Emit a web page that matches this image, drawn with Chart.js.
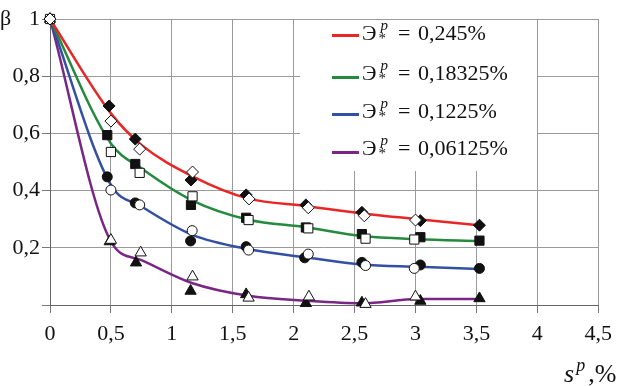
<!DOCTYPE html>
<html>
<head>
<meta charset="utf-8">
<script src="https://cdn.jsdelivr.net/npm/chart.js@4"></script>
<style>
  body { margin: 0; background: #fff; }
  #wrap { position: relative; width: 620px; height: 386px; font-family: "Liberation Serif", "Times New Roman", Times, "DejaVu Serif", serif; }
  canvas { position: absolute; left: 0; top: 0; }
  .legend { position: absolute; left: 300px; top: 20px; width: 237px; height: 151px; background: #fff; }
  .row { position: absolute; left: 0; height: 30px; width: 237px; }
  .swatch { position: absolute; left: 32px; width: 27px; height: 3px; }
  .txt { position: absolute; left: 62px; top: 0; font-size: 22px; line-height: 30px; white-space: pre; color: #111; }
  .ss { position: relative; display: inline-block; width: 14px; height: 1px; }
  .ss i, .ss b { position: absolute; font-size: 15px; line-height: 15px; font-weight: normal; }
  .ss i { left: 4px; top: -21px; }
  .ss b { left: 2px; top: -8px; }
  .eq { margin: 0 2px; }
  .beta { position: absolute; left: 0; top: 4px; font-size: 22px; line-height: 28px; color: #111; }
  .xtitle { position: absolute; left: 564px; top: 360px; font-size: 26px; line-height: 28px; color: #111; white-space: nowrap; }
  .xtitle sup { font-size: 18px; vertical-align: 0; position: relative; top: -11px; margin: 0 3px 0 2px; }
</style>
</head>
<body>
<div id="wrap">
  <canvas id="chart" width="620" height="386"></canvas>
  <div class="beta">β</div>
  <div class="xtitle"><i>s</i><sup><i>p</i></sup>,%</div>
  <div class="legend" id="legend"></div>
</div>
<script>
// ticks
const xTicks = [0, 0.5, 1, 1.5, 2, 2.5, 3, 3.5, 4, 4.5];
const yTicks = [0, 0.2, 0.4, 0.6, 0.8, 1];

// legend / series
const seriesNames = ['0,245%', '0,18325%', '0,1225%', '0,06125%'];
const seriesColors = ['rgb(232,38,38)', 'rgb(36,138,62)', 'rgb(52,80,162)', 'rgb(122,38,132)'];
const markerStyles = ['rectRot', 'rect', 'circle', 'triangle'];
const markerSizes = [6, 6.5, 5, 6.5];

// fitted curves
const lineX = [0, 0.5, 0.75, 1.17, 1.63, 2.1, 2.56, 3.02, 3.52];
const lineRed = [1, 0.67, 0.56, 0.45, 0.372, 0.346, 0.32, 0.3, 0.279];
const lineGreen = [1, 0.565, 0.478, 0.365, 0.298, 0.272, 0.241, 0.23, 0.224];
const lineBlue = [1, 0.42, 0.345, 0.245, 0.195, 0.167, 0.142, 0.134, 0.126];
const linePurple = [1, 0.222, 0.157, 0.076, 0.032, 0.015, 0.006, 0.021, 0.021];

// measured points, filled markers
const redFilledX = [0.485, 0.70, 1.157, 1.61, 2.10, 2.56, 3.04, 3.525];
const redFilledY = [0.696, 0.58, 0.437, 0.385, 0.35, 0.324, 0.295, 0.279];
const greenFilledX = [0.47, 0.70, 1.157, 1.61, 2.10, 2.56, 3.04, 3.525];
const greenFilledY = [0.594, 0.493, 0.35, 0.305, 0.271, 0.248, 0.237, 0.225];
const blueFilledX = [0.47, 0.70, 1.154, 1.61, 2.09, 2.56, 3.04, 3.525];
const blueFilledY = [0.448, 0.357, 0.224, 0.204, 0.165, 0.149, 0.14, 0.128];
const purpleFilledX = [0.49, 0.706, 1.154, 1.61, 2.10, 2.56, 3.04, 3.525];
const purpleFilledY = [0.222, 0.148, 0.049, 0.037, 0.006, 0.008, 0.014, 0.023];

// measured points, open markers
const redOpenX = [0, 0.5, 0.736, 1.17, 1.634, 2.12, 2.58, 3.0];
const redOpenY = [1, 0.643, 0.545, 0.465, 0.371, 0.34, 0.312, 0.297];
const greenOpenX = [0, 0.5, 0.736, 1.17, 1.63, 2.12, 2.59, 2.99];
const greenOpenY = [1, 0.535, 0.462, 0.38, 0.297, 0.268, 0.232, 0.229];
const blueOpenX = [0, 0.5, 0.736, 1.167, 1.63, 2.12, 2.59, 2.99];
const blueOpenY = [1, 0.402, 0.35, 0.26, 0.192, 0.178, 0.138, 0.128];
const purpleOpenX = [0, 0.5, 0.744, 1.17, 1.63, 2.125, 2.59, 3.0];
const purpleOpenY = [1, 0.227, 0.183, 0.099, 0.025, 0.029, 0.003, 0.029];

const lines = [lineRed, lineGreen, lineBlue, linePurple];
const filled = [[redFilledX, redFilledY], [greenFilledX, greenFilledY], [blueFilledX, blueFilledY], [purpleFilledX, purpleFilledY]];
const open = [[redOpenX, redOpenY], [greenOpenX, greenOpenY], [blueOpenX, blueOpenY], [purpleOpenX, purpleOpenY]];

const pts = (xs, ys) => xs.map((x, i) => ({ x: x, y: ys[i] }));
const fmt = v => String(Math.round(v * 10) / 10).replace('.', ',');
const serif = "'Liberation Serif', 'Times New Roman', Times, 'DejaVu Serif', serif";

const datasets = [];
for (let i = 0; i < 4; i++) {
	datasets.push({
		label: 'open ' + i,
		data: pts(open[i][0], open[i][1]),
		showLine: false,
		pointStyle: markerStyles[i],
		pointRadius: markerSizes[i],
		pointBackgroundColor: '#fff',
		pointBorderColor: '#111',
		pointBorderWidth: 1,
		clip: false,
		order: 1
	});
	datasets.push({
		label: 'filled ' + i,
		data: pts(filled[i][0], filled[i][1]),
		showLine: false,
		pointStyle: markerStyles[i],
		pointRadius: markerSizes[i],
		pointBackgroundColor: '#111',
		pointBorderColor: '#111',
		pointBorderWidth: 1,
		clip: false,
		order: 2
	});
	datasets.push({
		label: seriesNames[i],
		data: pts(lineX, lines[i]),
		borderColor: seriesColors[i],
		borderWidth: 2.5,
		pointRadius: 0,
		cubicInterpolationMode: 'monotone',
		clip: false,
		order: 3
	});
}

const chart = new Chart(document.getElementById('chart'), {
	type: 'line',
	data: { datasets: datasets },
	options: {
		responsive: false,
		animation: false,
		layout: { padding: { top: 19, right: 14, left: 0, bottom: 0 } },
		plugins: {
			legend: { display: false },
			tooltip: { enabled: false }
		},
		scales: {
			x: {
				type: 'linear',
				min: 0,
				max: 4.5,
				afterBuildTicks: s => { s.ticks = xTicks.map(v => ({ value: v })); },
				afterFit: s => { s.height = 81; },
				ticks: {
					callback: v => fmt(v),
					color: '#111',
					padding: 8,
					maxRotation: 0,
					font: { family: serif, size: 22 }
				},
				grid: { color: '#9a9a9a', tickLength: 8, tickColor: '#777' },
				border: { color: '#666' }
			},
			y: {
				type: 'linear',
				min: 0,
				max: 1,
				afterBuildTicks: s => { s.ticks = yTicks.map(v => ({ value: v })); },
				afterFit: s => { s.width = 50; },
				ticks: {
					callback: v => v === 0 ? '' : fmt(v),
					color: '#111',
					padding: 2,
					font: { family: serif, size: 22 }
				},
				grid: { color: '#9a9a9a', tickLength: 8, tickColor: '#777' },
				border: { color: '#666' }
			}
		}
	}
});

// legend with sub/superscripts
const legendRowsTop = [20, 60, 98, 135];
const legendLineY = [15, 57, 94, 132];
const legend = document.getElementById('legend');
seriesNames.forEach((name, i) => {
	const sw = document.createElement('div');
	sw.className = 'swatch';
	sw.style.top = (legendLineY[i] - 1) + 'px';
	sw.style.background = seriesColors[i];
	legend.appendChild(sw);
	const row = document.createElement('div');
	row.className = 'row';
	row.style.top = (legendRowsTop[i] - 20 - 2) + 'px';
	row.innerHTML = '<span class="txt">Э<span class="ss"><i>p</i><b>*</b></span> <span class="eq">=</span> ' + name + '</span>';
	legend.appendChild(row);
});
</script>
</body>
</html>
